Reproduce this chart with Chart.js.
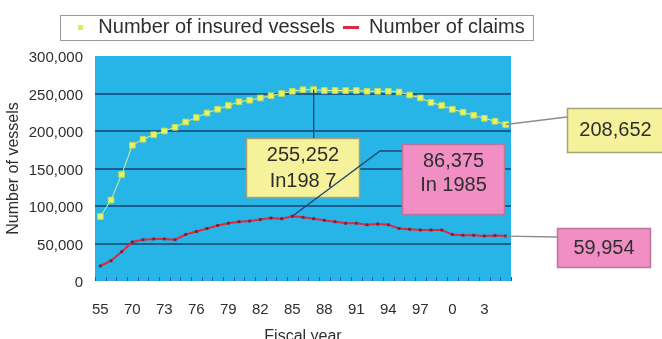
<!DOCTYPE html>
<html>
<head>
<meta charset="utf-8">
<title>Insured vessels and claims</title>
<script src="https://cdn.jsdelivr.net/npm/chart.js@4/dist/chart.umd.min.js"></script>
<style>
  html, body { margin: 0; padding: 0; background: #fff; }
  #wrap { position: relative; width: 662px; height: 339px; }
</style>
</head>
<body>
<div id="wrap"><canvas id="vessels-chart"></canvas></div>
<script>
// fiscal years (two-digit), every third one is labelled on the axis
const fiscalYears = ["55", "60", "65", "70", "71", "72", "73", "74", "75", "76", "77", "78", "79",
  "80", "81", "82", "83", "84", "85", "86", "87", "88", "89", "90", "91", "92", "93", "94", "95",
  "96", "97", "98", "99", "0", "1", "2", "3", "4", "5"];

const insuredVessels = [86000, 108000, 142000, 181000, 189000, 195000, 200000, 205000, 212000,
  218000, 224000, 229000, 234000, 239000, 241000, 244000, 247000, 250000, 253000, 255000, 255252,
  254000, 254000, 254000, 254000, 253000, 253000, 253000, 252000, 248000, 244000, 238000, 234000,
  229000, 225000, 221000, 217000, 213000, 208652];

const claims = [20000, 27000, 39000, 52000, 55000, 56000, 56000, 55000, 62000, 66000, 70000, 74000,
  77000, 79000, 80000, 82000, 84000, 83000, 86375, 85000, 83000, 81000, 79000, 77000, 77000, 75000,
  76000, 75000, 70000, 69000, 68000, 68000, 68000, 62000, 61000, 61000, 60000, 60500, 59954];

const yTicks = [0, 50000, 100000, 150000, 200000, 250000, 300000];

const FONT = "'Liberation Sans', Arial, sans-serif";
const TEXT = '#2e2e2e';
const fmt = v => v.toLocaleString('en-US');

const peakIdx = insuredVessels.indexOf(Math.max(...insuredVessels));
const claimsPeakIdx = claims.indexOf(Math.max(...claims));
const lastIdx = fiscalYears.length - 1;

// small images used as legend markers
function legendIcon(w, h, draw) {
  const c = document.createElement('canvas');
  c.width = w;
  c.height = h;
  draw(c.getContext('2d'));
  return c;
}
const vesselsIcon = legendIcon(5, 5, g => { g.fillStyle = '#d9ee5c'; g.fillRect(0, 0, 5, 5); });
const claimsIcon = legendIcon(16, 3, g => { g.fillStyle = '#e2283c'; g.fillRect(0, 0, 16, 3); });

const plotBackground = {
  id: 'plotBackground',
  beforeDraw(chart) {
    const { ctx, chartArea: a } = chart;
    ctx.save();
    ctx.fillStyle = '#27b4e6';
    ctx.fillRect(a.left, a.top, a.right - a.left, a.bottom - a.top);
    ctx.restore();
  }
};

// short tick marks standing up from the bottom edge of the plot
const innerTicks = {
  id: 'innerTicks',
  beforeDatasetsDraw(chart) {
    const { ctx, chartArea: a, scales: { x } } = chart;
    const half = (x.getPixelForValue(1) - x.getPixelForValue(0)) / 2;
    ctx.save();
    ctx.strokeStyle = '#1d5f8a';
    ctx.lineWidth = 1;
    ctx.beginPath();
    for (let i = 0; i <= fiscalYears.length; i++) {
      const px = Math.round(x.getPixelForValue(i) - half) + 0.5;
      ctx.moveTo(px, a.bottom);
      ctx.lineTo(px, a.bottom - 4);
    }
    ctx.stroke();
    ctx.restore();
  }
};

const legendFrame = {
  id: 'legendFrame',
  afterDraw(chart) {
    const boxes = chart.legend.legendHitBoxes;
    if (!boxes.length) return;
    const first = boxes[0], last = boxes[boxes.length - 1];
    const x0 = first.left - 12, x1 = last.left + last.width + 9;
    const y0 = first.top - 2, y1 = first.top + first.height + 3;
    const { ctx } = chart;
    ctx.save();
    ctx.strokeStyle = '#9a9a9a';
    ctx.lineWidth = 1;
    ctx.strokeRect(Math.round(x0) + 0.5, Math.round(y0) + 0.5, Math.round(x1 - x0), Math.round(y1 - y0));
    ctx.restore();
  }
};

// boxed value labels with leader lines back to their points
const callouts = {
  id: 'callouts',
  afterDatasetsDraw(chart) {
    const { ctx, scales: { x, y } } = chart;
    const yellow = { fill: '#f6f29c', stroke: '#a6a274' };
    const pink = { fill: '#f18fc5', stroke: '#b9779b' };
    const boxes = [
      { r: [246, 138, 114, 60], c: yellow, lines: [fmt(insuredVessels[peakIdx]), 'In198 7'], ty: [155, 181] },
      { r: [402, 144, 103, 71], c: pink, lines: [fmt(claims[claimsPeakIdx]), 'In 1985'], ty: [161, 185] },
      { r: [567, 108, 97, 45], c: yellow, lines: [fmt(insuredVessels[lastIdx])], ty: [130] },
      { r: [557, 228, 94, 40], c: pink, lines: [fmt(claims[lastIdx])], ty: [248] }
    ];
    ctx.save();
    for (const b of boxes) {
      const [bx, by, bw, bh] = b.r;
      ctx.fillStyle = b.c.fill;
      ctx.fillRect(bx, by, bw, bh);
      ctx.strokeStyle = b.c.stroke;
      ctx.lineWidth = 1.5;
      ctx.strokeRect(bx + 0.5, by + 0.5, bw - 1, bh - 1);
      ctx.fillStyle = TEXT;
      ctx.font = '20px ' + FONT;
      ctx.textAlign = 'center';
      ctx.textBaseline = 'middle';
      b.lines.forEach((t, i) => ctx.fillText(t, bx + bw / 2, b.ty[i]));
    }

    const px = i => x.getPixelForValue(i);
    ctx.lineWidth = 1.3;
    ctx.strokeStyle = '#22456a';
    ctx.beginPath();
    ctx.moveTo(px(peakIdx), y.getPixelForValue(insuredVessels[peakIdx]));
    ctx.lineTo(px(peakIdx), 138);
    ctx.stroke();

    ctx.beginPath();
    ctx.moveTo(px(claimsPeakIdx), y.getPixelForValue(claims[claimsPeakIdx]));
    ctx.lineTo(380, 151);
    ctx.lineTo(402, 151);
    ctx.stroke();

    ctx.strokeStyle = '#8d8d8d';
    ctx.beginPath();
    ctx.moveTo(px(lastIdx), y.getPixelForValue(insuredVessels[lastIdx]));
    ctx.lineTo(567, 117);
    ctx.moveTo(px(lastIdx), y.getPixelForValue(claims[lastIdx]));
    ctx.lineTo(557, 237);
    ctx.stroke();
    ctx.restore();
  }
};

new Chart(document.getElementById('vessels-chart'), {
  type: 'line',
  data: {
    labels: fiscalYears,
    datasets: [
      {
        label: 'Number of insured vessels',
        data: insuredVessels,
        borderColor: '#e6ee98',
        borderWidth: 1,
        pointStyle: 'rect',
        pointRadius: 4,
        pointBackgroundColor: '#e2f46c',
        pointBorderColor: '#c6da52',
        pointBorderWidth: 1,
        tension: 0
      },
      {
        label: 'Number of claims',
        data: claims,
        borderColor: '#e2283c',
        borderWidth: 2,
        pointStyle: 'rect',
        pointRadius: 2,
        pointBackgroundColor: '#7a2038',
        pointBorderWidth: 0,
        tension: 0
      }
    ]
  },
  options: {
    responsive: true,
    maintainAspectRatio: false,
    animation: false,
    layout: { padding: { top: 9, left: 0, right: 65, bottom: -7 } },
    plugins: {
      tooltip: { enabled: false },
      legend: {
        position: 'top',
        labels: {
          usePointStyle: true,
          boxWidth: 16,
          padding: 8,
          color: TEXT,
          font: { family: FONT, size: 20 },
          generateLabels(chart) {
            const items = Chart.defaults.plugins.legend.labels.generateLabels(chart);
            items[0].pointStyle = vesselsIcon;
            items[1].pointStyle = claimsIcon;
            return items;
          }
        }
      }
    },
    scales: {
      x: {
        type: 'category',
        offset: true,
        grid: { display: false },
        border: { display: false },
        ticks: {
          autoSkip: false,
          maxRotation: 0,
          padding: 12,
          color: TEXT,
          font: { family: FONT, size: 15 },
          callback(v, i) { return i % 3 === 0 ? this.getLabelForValue(v) : ''; }
        },
        title: {
          display: true,
          text: 'Fiscal year',
          color: TEXT,
          font: { family: FONT, size: 16 },
          padding: { top: 0, bottom: 0 }
        },
        afterFit(s) { s.height = 65; }
      },
      y: {
        min: 0,
        max: 300000,
        border: { display: false },
        grid: {
          drawTicks: false,
          lineWidth: 2,
          color: c => (c.tick.value === yTicks[0] || c.tick.value === yTicks[yTicks.length - 1]) ? 'rgba(0,0,0,0)' : '#1b5e8c'
        },
        afterBuildTicks(s) { s.ticks = yTicks.map(v => ({ value: v })); },
        ticks: {
          padding: 12,
          labelOffset: 2,
          color: TEXT,
          font: { family: FONT, size: 15 },
          callback: v => fmt(v)
        },
        title: {
          display: true,
          text: 'Number of vessels',
          color: TEXT,
          font: { family: FONT, size: 16 }
        },
        afterFit(s) { s.width = 95; }
      },
      gapTop: {
        type: 'linear',
        position: 'top',
        grid: { display: false },
        border: { display: false },
        ticks: { display: false },
        afterFit(s) { s.height = 9; }
      },
      gapRight: {
        type: 'linear',
        position: 'right',
        grid: { display: false },
        border: { display: false },
        ticks: { display: false },
        afterFit(s) { s.width = 86; }
      }
    }
  },
  plugins: [plotBackground, innerTicks, callouts, legendFrame]
});
</script>
</body>
</html>
